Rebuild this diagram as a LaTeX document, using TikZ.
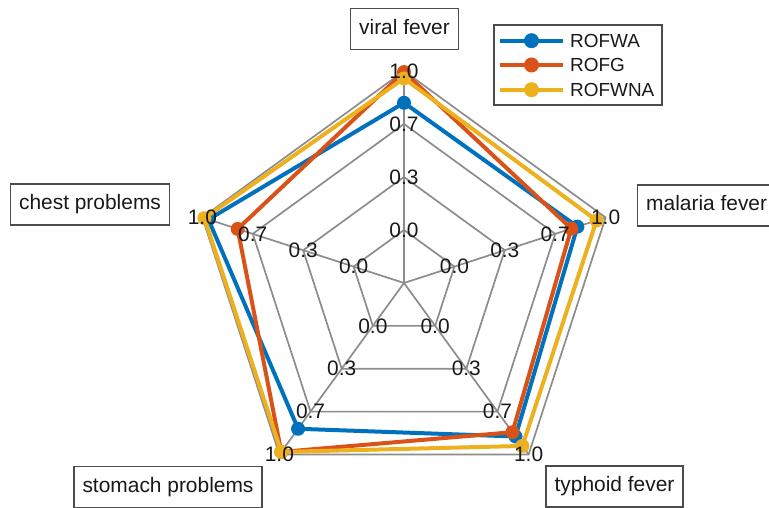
\documentclass[tikz,border=0pt]{standalone}
\usepackage{fontspec}
\setmainfont{Liberation Sans}
\usetikzlibrary{calc}
\definecolor{mblue}{RGB}{0,114,189}
\definecolor{mred}{RGB}{217,83,25}
\definecolor{myellow}{RGB}{237,177,32}
\newcommand\radarseries[6]{%
  \draw[series,#1] (90:{#2*\R}) -- (18:{#3*\R}) -- (-54:{#4*\R}) -- (-126:{#5*\R}) -- (162:{#6*\R}) -- cycle;
  \foreach \a/\v in {90/#2,18/#3,-54/#4,-126/#5,162/#6} \fill[#1] (\a:{\v*\R}) circle (7);
}
\begin{document}
\begin{tikzpicture}[x=1bp,y=1bp,
  grid/.style={draw=black!45, line width=1.7bp, line join=round},
  series/.style={line width=4bp, line join=round},
  lbl/.style={font=\fontsize{21}{24}\selectfont, text=black!90, inner sep=0pt},
  catbox/.style={draw=black!70, line width=1.4bp, fill=white, font=\fontsize{21}{24}\selectfont,
    text=black!90, minimum height=41bp, inner xsep=8.5bp, inner ysep=0pt, text height=15.5bp, text depth=4.5bp},
  legtext/.style={font=\fontsize{19}{22}\selectfont, text=black!90, inner sep=0pt, anchor=west}
]
\clip (0,0) rectangle (769,508);
\def\R{212}
\begin{scope}[shift={(404,225)}]
  \coordinate (C) at (0,0);
  % spokes
  \foreach \a [count=\i] in {90,18,-54,-126,162}
    \draw[grid] (C) -- (\a:\R) coordinate (s\i);
  % rings
  \foreach \f in {0.25,0.5,0.75,1}
    \draw[grid] (90:{\f*\R}) -- (18:{\f*\R}) -- (-54:{\f*\R}) -- (-126:{\f*\R}) -- (162:{\f*\R}) -- cycle;
  % series: viral, malaria, typhoid, stomach, chest
  \radarseries{mblue}{0.85}{0.86}{0.895}{0.85}{0.97}
  \radarseries{mred}{0.995}{0.83}{0.87}{0.985}{0.825}
  \radarseries{myellow}{0.965}{0.955}{0.95}{0.985}{0.99}
  % tick labels
  \foreach \a [count=\i] in {90,18,-54,-126,162}
    \foreach \f/\t [count=\j] in {0.25/0.0,0.5/0.3,0.75/0.7,1/1.0}
      \node[lbl] (t\i\j) at (\a:{\f*\R}) {\t};
\end{scope}
% category boxes
\node[catbox] (viral) at (404.5,479) {viral fever};
\node[catbox, anchor=west] (malaria) at (637,302.5) {malaria fever};
\node[catbox] (typhoid) at (614.5,21.5) {typhoid fever};
\node[catbox] (stomach) at (168,21) {stomach problems};
\node[catbox] (chest) at (90,303.5) {chest problems};
% legend
\node[draw=black!70, line width=1.4bp, fill=white, minimum width=168bp, minimum height=80bp, inner sep=0pt] (legend) at (578,443) {};
\foreach \c/\n/\y [count=\k] in {mblue/ROFWA/467.3, mred/ROFG/443, myellow/ROFWNA/418.3} {
  \coordinate (la\k) at (500,\y);
  \coordinate (lb\k) at (563,\y);
  \draw[\c, line width=4bp] (la\k) -- (lb\k);
  \fill[\c] ($(la\k)!0.5!(lb\k)$) circle (7.5);
  \node[legtext] (lt\k) at (570,\y) {\n};
}
\end{tikzpicture}
\end{document}
